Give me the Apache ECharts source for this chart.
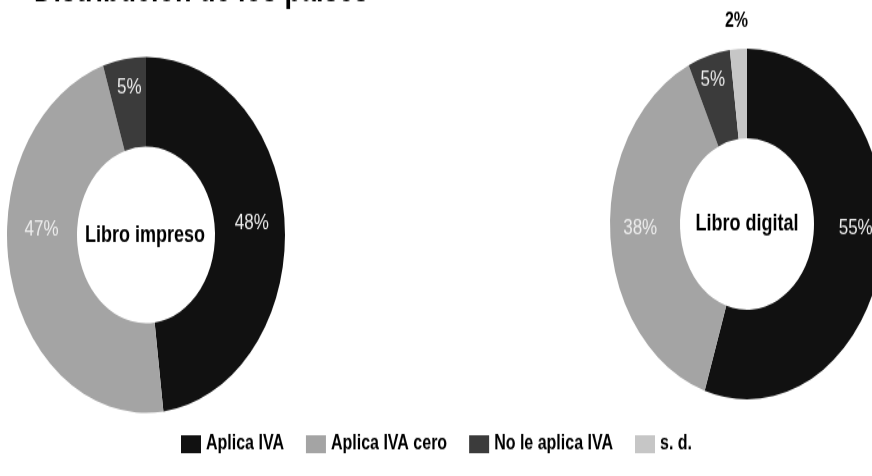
<!DOCTYPE html>
<html>
<head>
<meta charset="utf-8">
<script src="https://cdn.jsdelivr.net/npm/echarts@6/dist/echarts.min.js"></script>
<style>
  html, body { margin: 0; padding: 0; background: #fff; width: 872px; height: 476px; overflow: hidden; }
  #wrap { position: relative; width: 872px; height: 476px; overflow: hidden; background: #fff; }
  /* the source picture is a vertically stretched scan, so the whole chart is stretched the same way */
  #chart { position: absolute; left: 0; top: 0; width: 872px; height: 372px; transform: scaleY(1.28); transform-origin: 0 0; }
</style>
</head>
<body>
<div id="wrap"><div id="chart"></div></div>
<script>
// categories (legend order)
const categories = ['Aplica IVA', 'Aplica IVA cero', 'No le aplica IVA', 's. d.'];
// percentages
const impresoValues = [48, 47, 5];
const digitalValues = [55, 38, 5, 2];
const centerTexts = ['Libro impreso', 'Libro digital'];

const colors = ['#111111', '#a4a4a4', '#3b3b3b', '#c6c6c6'];
const FONT = "'Liberation Sans Narrow', 'Liberation Sans', sans-serif";

// label nudges so the small slices read like the original
const impresoOffsets = [[-1, -2], [0, -28], [0, -10]];
const digitalOffsets = [[5, -13], [-2, -3], [-5, -12], [11, 0]];

function buildData(values, offsets) {
  return values.map((v, i) => {
    const item = {
      name: categories[i],
      value: v,
      itemStyle: { color: colors[i] },
      label: { offset: offsets[i] }
    };
    if (categories[i] === 's. d.') {
      item.label = {
        position: 'outside',
        color: '#000',
        fontWeight: 'bold',
        fontSize: 16,
        fontFamily: FONT,
        distanceToLabelLine: 0,
        offset: offsets[i]
      };
      item.labelLine = { show: false, length: 22, length2: 0 };
    }
    return item;
  });
}

function pieSeries(name, center, radius, data) {
  return {
    name: name,
    type: 'pie',
    center: center,
    radius: radius,
    startAngle: 90,
    clockwise: true,
    avoidLabelOverlap: false,
    silent: true,
    label: {
      show: true,
      position: 'inside',
      formatter: '{c}%',
      color: '#ededed',
      fontSize: 17,
      fontFamily: "'Liberation Sans', sans-serif"
    },
    labelLine: { show: false },
    emphasis: { disabled: true },
    data: data
  };
}

const chart = echarts.init(document.getElementById('chart'));
chart.setOption({
  animation: false,
  backgroundColor: '#fff',
  title: [
    {
      text: 'Distribución de los países',
      left: 34, top: -20, padding: 0,
      textStyle: { fontSize: 27, fontWeight: 'bold', color: '#000', fontFamily: "'Liberation Sans', sans-serif" }
    },
    {
      text: centerTexts[0],
      left: 145, top: 184, padding: 0,
      textAlign: 'center', textVerticalAlign: 'middle',
      textStyle: { fontSize: 18, fontWeight: 'bold', color: '#000', fontFamily: FONT }
    },
    {
      text: centerTexts[1],
      left: 747, top: 175, padding: 0,
      textAlign: 'center', textVerticalAlign: 'middle',
      textStyle: { fontSize: 18, fontWeight: 'bold', color: '#000', fontFamily: FONT }
    }
  ],
  legend: {
    data: categories,
    left: 176,
    top: 334,
    itemWidth: 20,
    itemHeight: 14,
    itemGap: 22,
    icon: 'rect',
    selectedMode: false,
    textStyle: { fontSize: 16, fontWeight: 'bold', color: '#000', fontFamily: FONT }
  },
  series: [
    pieSeries('Libro impreso', [146, 183.5], [69, 139], buildData(impresoValues, impresoOffsets)),
    pieSeries('Libro digital', [747, 175], [67, 137], buildData(digitalValues, digitalOffsets))
  ]
});
</script>
</body>
</html>
